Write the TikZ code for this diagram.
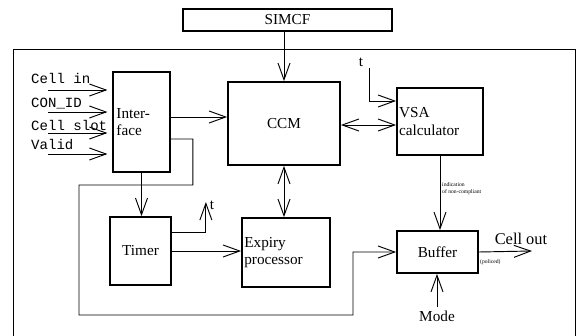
\documentclass[tikz,border=0pt]{standalone}
\usepackage{fontspec}
\setmainfont{Liberation Serif}
\setmonofont{Liberation Mono}
\usetikzlibrary{arrows.meta}
\usetikzlibrary{positioning}

\tikzset{
  box/.style={draw,line width=1.5pt,inner sep=1pt,font=\fontsize{13}{15}\selectfont},
  conn/.style={line width=0.8pt,-{Straight Barb[length=5mm,width=3.6mm]}},
  both/.style={line width=0.8pt,{Straight Barb[length=5mm,width=3.6mm]}-{Straight Barb[length=5mm,width=3.6mm]}},
  lbl/.style={font=\fontsize{13}{15}\selectfont,inner sep=0pt},
  inlbl/.style={font=\ttfamily\fontsize{12}{14}\selectfont,inner sep=0pt,anchor=west},
  tiny/.style={font=\fontsize{4.8}{5.8}\selectfont,inner sep=0pt,anchor=west,align=left}
}

\begin{document}
\begin{tikzpicture}[x=0.03cm,y=-0.03cm]
\useasboundingbox (0,0) rectangle (578,336);
% frame
\draw[line width=0.5pt] (13,336) -- (13,49) -- (575,49) -- (575,336);

% blocks
\node[box,minimum width=6.27cm,minimum height=0.66cm] (simcf) at (287.5,20) {SIMCF};
\node[box,minimum width=1.71cm,minimum height=3.0cm,align=left,text width=1.5cm] (iface) at (141.5,122) {Inter-\\face};
\node[box,minimum width=3.36cm,minimum height=2.49cm] (ccm) at (284,123.5) {CCM};
\node[box,minimum width=2.58cm,minimum height=2.01cm,align=left,text width=2.45cm] (vsa) at (440,121.5) {VSA\\calculator};
\node[box,minimum width=1.83cm,minimum height=2.04cm] (timer) at (140.5,251) {Timer};
\node[box,minimum width=2.64cm,minimum height=2.07cm,align=left,text width=2.5cm] (expiry) at (286,252.5) {Expiry\\processor};
\node[box,minimum width=2.43cm,minimum height=1.26cm] (buffer) at (437.5,252) {Buffer};

% inputs
\node[inlbl] (lcellin) at (31,78) {Cell in};
\node[inlbl] (lconid) at (31,104) {CON\_ID};
\node[inlbl] (lslot) at (31,125) {Cell slot};
\node[inlbl] (lvalid) at (31,144) {Valid};
\coordinate (in1) at (48,90);
\coordinate (in2) at (48,112);
\coordinate (in3) at (48,133);
\coordinate (in4) at (48,154);
\foreach \c in {in1,in2,in3,in4}
  \draw[conn,shorten >=4pt] (\c) -- (\c -| iface.west);

% connections
\draw[conn] (ccm.north |- simcf.south) -- (ccm.north);
\draw[conn] ([yshift=0.15cm]iface.east) -- ([yshift=0.15cm]iface.east -| ccm.west);
\draw[conn] (iface.south) -- (iface.south |- timer.north);
\draw[conn] (timer.east) -- (timer.east -| expiry.west);
\draw[both] (ccm.south) -- (ccm.south |- expiry.north);
\draw[both] (ccm.east |- 0,125) -- (vsa.west |- 0,125);
\draw[conn] (vsa.south) -- (vsa.south |- buffer.north);
\draw[conn] ([yshift=-0.51cm]iface.east) -- ++(22,0) -- ++(0,46) -- (79,185) -- (79,315) -- (353,315) -- (353,252) -- (buffer.west);

% timer output t
\draw[conn] ([yshift=0.57cm]timer.east) -- ++(34,0) -- ++(0,-30);
\node[lbl] (tt) at (212,205) {t};

% t into VSA
\coordinate (tv) at (369,68);
\node[lbl] (tvsa) at (361,62) {t};
\draw[conn] (tv) -- (369,101) -- (vsa.west |- 0,101);

% buffer out
\coordinate (cout) at (532,251);
\draw[conn] (buffer.east) -- (cout);
\node[lbl,font=\fontsize{14}{16}\selectfont] (lcout) at (521,239) {Cell out};
\node[tiny] (lpol) at (480,262) {(policed)};
\node[tiny] (lind) at (442,189) {indication\\of non-compliant};

% mode
\node[lbl] (mode) at (437,316) {Mode};
\draw[conn] ([yshift=0.1cm]mode.north) -- (mode.north |- buffer.south);
\end{tikzpicture}
\end{document}
